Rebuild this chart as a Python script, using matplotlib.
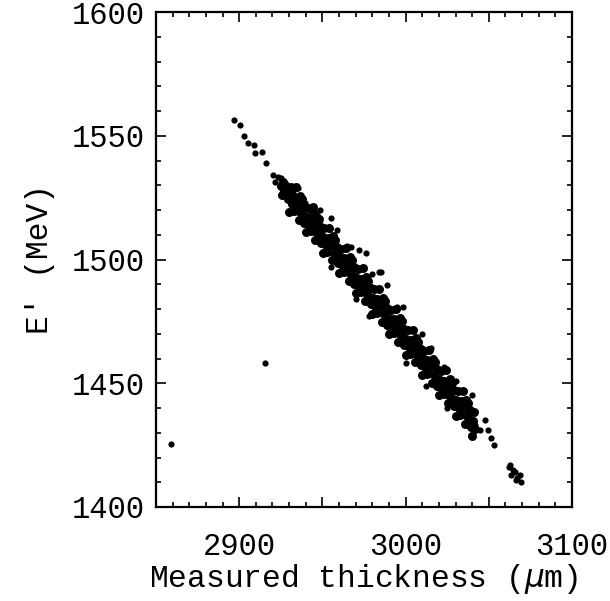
import matplotlib
matplotlib.use('Agg')
import matplotlib.pyplot as plt
from matplotlib.ticker import MultipleLocator

# dense core of the band (thickness in um, E' in MeV)
core_x = [2926.4, 2925.4, 2926.8, 2925.7, 2927.7, 2929.0, 2928.3, 2929.1,
          2931.2, 2930.5, 2931.9, 2930.1, 2934.2, 2933.1, 2933.6, 2932.9,
          2936.4, 2935.4, 2936.8, 2935.7, 2937.7, 2939.0, 2938.3, 2939.1,
          2941.2, 2940.5, 2941.9, 2940.1, 2944.2, 2943.1, 2943.6, 2942.9,
          2946.4, 2945.4, 2946.8, 2945.7, 2947.7, 2949.0, 2948.3, 2949.1,
          2951.2, 2950.5, 2951.9, 2950.1, 2954.2, 2953.1, 2953.6, 2952.9,
          2956.4, 2955.4, 2956.8, 2955.7, 2957.7, 2959.0, 2958.3, 2959.1,
          2961.2, 2960.5, 2961.9, 2960.1, 2964.2, 2963.1, 2963.6, 2962.9,
          2966.4, 2965.4, 2966.8, 2965.7, 2967.7, 2969.0, 2968.3, 2969.1,
          2971.2, 2970.5, 2971.9, 2970.1, 2974.2, 2973.1, 2973.6, 2972.9,
          2976.4, 2975.4, 2976.8, 2975.7, 2977.7, 2979.0, 2978.3, 2979.1,
          2981.2, 2980.5, 2981.9, 2980.1, 2984.2, 2983.1, 2983.6, 2982.9,
          2986.4, 2985.4, 2986.8, 2985.7, 2987.7, 2989.0, 2988.3, 2989.1,
          2991.2, 2990.5, 2991.9, 2990.1, 2994.2, 2993.1, 2993.6, 2992.9,
          2996.4, 2995.4, 2996.8, 2995.7, 2997.7, 2999.0, 2998.3, 2999.1,
          3001.2, 3000.5, 3001.9, 3000.1, 3004.2, 3003.1, 3003.6, 3002.9,
          3006.4, 3005.4, 3006.8, 3005.7, 3007.7, 3009.0, 3008.3, 3009.1,
          3011.2, 3010.5, 3011.9, 3010.1, 3014.2, 3013.1, 3013.6, 3012.9,
          3016.4, 3015.4, 3016.8, 3015.7, 3017.7, 3019.0, 3018.3, 3019.1,
          3021.2, 3020.5, 3021.9, 3020.1, 3024.2, 3023.1, 3023.6, 3022.9,
          3026.4, 3025.4, 3026.8, 3025.7, 3027.7, 3029.0, 3028.3, 3029.1,
          3031.2, 3030.5, 3031.9, 3030.1, 3034.2, 3033.1, 3033.6, 3032.9,
          3036.4, 3035.4, 3036.8, 3035.7, 3037.7, 3039.0, 3038.3, 3039.1,
          3041.2, 3040.5, 3041.9, 3040.1]
core_y = [1531.5, 1529.8, 1527.4, 1526.0, 1530.0, 1528.5, 1526.2, 1524.5,
          1529.1, 1525.6, 1522.3, 1519.3, 1529.4, 1525.2, 1522.4, 1519.6,
          1525.8, 1522.4, 1519.2, 1516.1, 1524.4, 1521.5, 1518.0, 1514.9,
          1520.8, 1517.3, 1514.0, 1511.0, 1521.2, 1517.0, 1514.2, 1511.4,
          1517.5, 1514.1, 1510.9, 1507.8, 1516.2, 1513.3, 1509.8, 1506.7,
          1512.6, 1509.1, 1505.8, 1502.8, 1512.9, 1508.7, 1505.9, 1503.1,
          1509.3, 1505.9, 1502.7, 1499.6, 1507.9, 1505.0, 1501.5, 1498.4,
          1504.4, 1500.9, 1497.6, 1494.6, 1504.7, 1500.5, 1497.7, 1494.9,
          1501.0, 1497.6, 1494.4, 1491.3, 1499.7, 1496.8, 1493.3, 1490.2,
          1496.1, 1492.6, 1489.3, 1486.3, 1496.5, 1492.3, 1489.5, 1486.7,
          1492.8, 1489.4, 1486.2, 1483.1, 1491.4, 1488.5, 1485.0, 1481.9,
          1487.9, 1484.4, 1481.1, 1478.1, 1488.2, 1484.0, 1481.2, 1478.4,
          1484.6, 1481.2, 1478.0, 1474.9, 1483.2, 1480.3, 1476.8, 1473.7,
          1479.6, 1476.1, 1472.8, 1469.8, 1480.0, 1475.8, 1473.0, 1470.2,
          1476.3, 1472.9, 1469.7, 1466.6, 1475.0, 1472.1, 1468.6, 1465.5,
          1471.4, 1467.9, 1464.6, 1461.6, 1471.7, 1467.5, 1464.7, 1461.9,
          1468.1, 1464.7, 1461.5, 1458.4, 1466.7, 1463.8, 1460.3, 1457.2,
          1463.2, 1459.7, 1456.4, 1453.4, 1463.5, 1459.3, 1456.5, 1453.7,
          1459.8, 1456.4, 1453.2, 1450.1, 1458.5, 1455.6, 1452.1, 1449.0,
          1454.9, 1451.4, 1448.1, 1445.1, 1455.3, 1451.1, 1448.3, 1445.5,
          1451.6, 1448.2, 1445.0, 1441.9, 1450.2, 1447.3, 1443.8, 1440.7,
          1446.7, 1443.2, 1439.9, 1436.9, 1447.0, 1442.8, 1440.0, 1437.2,
          1443.4, 1440.0, 1436.8, 1433.7, 1442.0, 1439.1, 1435.6, 1432.5,
          1438.4, 1434.9, 1431.6, 1428.6]

# sparse dots around the band, the tail and the outliers
edge_x = [2896.6, 2900.7, 2903.0, 2905.5, 2909.1, 2909.2, 2914.0, 2915.9,
          2920.3, 2921.6, 2923.3, 2925.1, 2927.7, 2929.5, 2932.5, 2935.4,
          2933.7, 2937.2, 2939.6, 2942.6, 2945.6, 2948.5, 2929.7, 2942.0,
          2954.9, 2958.6, 2976.2, 2985.5, 2972.0, 2967.2, 2984.3, 2988.7,
          2998.6, 2986.4, 2990.2, 2997.3, 3001.8, 3015.3, 3022.8, 3039.9,
          3047.5, 3044.6, 3049.4, 3051.2, 3053.1, 3039.4, 3041.7, 2965.0,
          2980.0, 2995.0, 3010.0, 2970.0, 2978.0, 3000.0, 3012.0, 3030.0,
          3025.0, 2955.0, 2945.0, 3062.0, 3064.4, 3063.3, 3066.8, 3069.2,
          3066.2, 3068.5, 3063.0, 3065.5, 2915.5, 2858.9]
edge_y = [1556.4, 1554.3, 1549.9, 1547.1, 1546.3, 1543.0, 1543.4, 1539.0,
          1534.1, 1531.3, 1533.3, 1532.9, 1529.3, 1528.1, 1526.9, 1528.9,
          1524.0, 1524.8, 1522.8, 1520.0, 1518.8, 1520.0, 1524.0, 1513.1,
          1516.8, 1511.9, 1502.6, 1494.9, 1503.8, 1505.1, 1494.9, 1489.7,
          1480.8, 1474.3, 1470.7, 1468.7, 1462.6, 1464.2, 1456.6, 1445.3,
          1435.2, 1431.1, 1431.1, 1427.9, 1425.1, 1429.1, 1433.1, 1505.5,
          1494.0, 1481.0, 1470.0, 1484.0, 1477.0, 1458.0, 1449.0, 1451.0,
          1440.0, 1497.0, 1520.0, 1416.2, 1414.9, 1412.9, 1411.7, 1410.1,
          1410.9, 1412.9, 1417.0, 1414.0, 1458.2, 1425.5]

x_ticks = [2900, 3000, 3100]
y_ticks = [1400, 1450, 1500, 1550, 1600]

plt.rcParams['font.family'] = ['Liberation Mono', 'DejaVu Sans Mono']

fig = plt.figure(figsize=(6.1, 6.01), dpi=100)
ax = fig.add_axes([156 / 610, 1 - 507 / 601, 416 / 610, 495 / 601])

ax.scatter(core_x, core_y, s=42, color='black', linewidths=0)
ax.scatter(edge_x, edge_y, s=20, color='black', linewidths=0)

ax.set_xlim(2850, 3100)
ax.set_ylim(1400, 1600)
ax.xaxis.set_major_locator(MultipleLocator(50))
ax.xaxis.set_major_formatter(plt.FuncFormatter(lambda v, p: f'{v:.0f}' if v in x_ticks else ''))
ax.set_yticks(y_ticks)
ax.xaxis.set_minor_locator(MultipleLocator(10))
ax.yaxis.set_minor_locator(MultipleLocator(10))
ax.tick_params(which='both', direction='in', top=True, right=True, width=1.2)
ax.tick_params(which='major', length=7)
ax.tick_params(which='minor', length=3.5)
ax.tick_params(axis='x', which='major', labelsize=22, pad=18)
ax.tick_params(axis='y', which='major', labelsize=22, pad=8)
for sp in ax.spines.values():
    sp.set_linewidth(1.6)

ax.set_xlabel('Measured thickness ($\\mu$m)', fontsize=22.5, labelpad=0)
ax.set_ylabel("E' (MeV)", fontsize=22.5, labelpad=12)

fig.savefig('out.png', dpi=100)
plt.close(fig)
